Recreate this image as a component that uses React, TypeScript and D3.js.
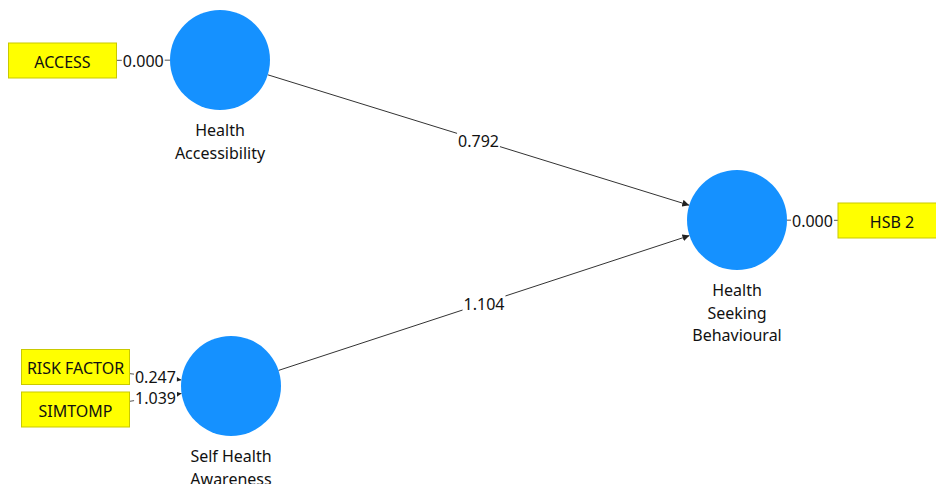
import React, { useEffect, useRef } from 'react'
import * as d3 from 'd3'

// Latent constructs (label lines) and indicators of the path model
const constructs = ['Health Accessibility', 'Self Health Awareness', 'Health Seeking Behavioural']
const constructLines = [['Health', 'Accessibility'], ['Self Health', 'Awareness'], ['Health', 'Seeking', 'Behavioural']]
const indicators = ['ACCESS', 'RISK FACTOR', 'SIMTOMP', 'HSB 2']
const indicatorOf = ['Health Accessibility', 'Self Health Awareness', 'Self Health Awareness', 'Health Seeking Behavioural']
const outerWeights = [0.0, 0.247, 1.039, 0.0]
const pathFrom = ['Health Accessibility', 'Self Health Awareness']
const pathTo = ['Health Seeking Behavioural', 'Health Seeking Behavioural']
const pathCoefs = [0.792, 1.104]

// layout (pixel positions of node centres)
const constructPos: Record<string, [number, number]> = {
  'Health Accessibility': [220, 60],
  'Self Health Awareness': [231, 386],
  'Health Seeking Behavioural': [737, 220],
}
const indicatorPos: Record<string, [number, number]> = {
  ACCESS: [62.5, 60.5],
  'RISK FACTOR': [75.5, 367],
  SIMTOMP: [75.5, 409.5],
  'HSB 2': [892, 220.5],
}
const arrowed: Record<string, boolean> = { ACCESS: false, 'RISK FACTOR': true, SIMTOMP: true, 'HSB 2': false }

const R = 50
const BOX_W = 108
const BOX_H = 35
const FONT = '"Noto Sans", "Open Sans", sans-serif'

const App: React.FC = () => {
  const svgRef = useRef<SVGSVGElement | null>(null)

  useEffect(() => {
    const svg = d3.select(svgRef.current)
    svg.selectAll('*').remove()

    const defs = svg.append('defs')
    defs
      .append('marker')
      .attr('id', 'arr')
      .attr('viewBox', '0 0 10 10')
      .attr('refX', 10)
      .attr('refY', 5)
      .attr('markerWidth', 7)
      .attr('markerHeight', 7)
      .attr('markerUnits', 'userSpaceOnUse')
      .attr('orient', 'auto')
      .append('path')
      .attr('d', 'M0,0 L10,5 L0,10 z')
      .attr('fill', '#222')

    const fmt = d3.format('.3f')

    const label = (g: d3.Selection<SVGGElement, unknown, null, undefined>, x: number, y: number, txt: string) => {
      const t = g
        .append('text')
        .attr('x', x)
        .attr('y', y)
        .attr('text-anchor', 'middle')
        .attr('dominant-baseline', 'central')
        .attr('font-family', FONT)
        .attr('font-size', 16)
        .attr('fill', '#111')
        .text(txt)
      const bb = (t.node() as SVGTextElement).getBBox()
      g.insert('rect', 'text:last-child')
        .attr('x', bb.x - 1)
        .attr('y', bb.y + 2)
        .attr('width', bb.width + 2)
        .attr('height', bb.height - 4)
        .attr('fill', '#fff')
    }

    const edges = svg.append('g')
    const labels = svg.append('g')

    // inner model paths
    pathCoefs.forEach((c, i) => {
      const [x1, y1] = constructPos[pathFrom[i]]
      const [x2, y2] = constructPos[pathTo[i]]
      const len = Math.hypot(x2 - x1, y2 - y1)
      const ux = (x2 - x1) / len
      const uy = (y2 - y1) / len
      edges
        .append('line')
        .attr('x1', x1 + ux * R)
        .attr('y1', y1 + uy * R)
        .attr('x2', x2 - ux * R)
        .attr('y2', y2 - uy * R)
        .attr('stroke', '#333')
        .attr('stroke-width', 1)
        .attr('marker-end', 'url(#arr)')
      const lg = labels.append('g')
      label(lg, (x1 + x2) / 2, (y1 + y2) / 2 + 1, fmt(c))
    })

    // outer model (indicator -> construct)
    indicators.forEach((ind, i) => {
      const [bx, by] = indicatorPos[ind]
      const [cx, cy] = constructPos[indicatorOf[i]]
      const dx = cx - bx
      const dy = cy - by
      const len = Math.hypot(dx, dy)
      // clip at box edge (vertical side)
      const tBox = BOX_W / 2 / Math.abs(dx)
      const sx = bx + dx * tBox
      const sy = by + dy * tBox
      const ex = cx - (dx / len) * R
      const ey = cy - (dy / len) * R
      const ln = edges
        .append('line')
        .attr('x1', sx)
        .attr('y1', sy)
        .attr('x2', ex)
        .attr('y2', ey)
        .attr('stroke', '#555')
        .attr('stroke-width', 1)
      if (arrowed[ind]) ln.attr('marker-end', 'url(#arr)')
      const lg = labels.append('g')
      label(lg, (sx + ex) / 2, (sy + ey) / 2 + 0.5, fmt(outerWeights[i]))
    })

    // constructs
    const cg = svg.append('g')
    constructs.forEach((c, i) => {
      const [x, y] = constructPos[c]
      cg.append('circle').attr('cx', x).attr('cy', y).attr('r', R).attr('fill', '#1591ff')
      constructLines[i].forEach((ln, j) => {
        cg.append('text')
          .attr('x', x)
          .attr('y', y + R + 20 + j * 22.5)
          .attr('text-anchor', 'middle')
          .attr('dominant-baseline', 'central')
          .attr('font-family', FONT)
          .attr('font-size', 16)
          .attr('fill', '#111')
          .text(ln)
      })
    })

    // indicator boxes
    const ig = svg.append('g')
    indicators.forEach((ind) => {
      const [x, y] = indicatorPos[ind]
      ig.append('rect')
        .attr('x', x - BOX_W / 2)
        .attr('y', y - BOX_H / 2)
        .attr('width', BOX_W)
        .attr('height', BOX_H)
        .attr('fill', '#ffff00')
        .attr('stroke', '#c9c900')
        .attr('stroke-width', 1)
      ig.append('text')
        .attr('x', x)
        .attr('y', y + 1)
        .attr('text-anchor', 'middle')
        .attr('dominant-baseline', 'central')
        .attr('font-family', FONT)
        .attr('font-size', 16)
        .attr('fill', '#111')
        .text(ind)
    })
  }, [])

  return (
    <svg
      ref={svgRef}
      width={936}
      height={484}
      style={{ position: 'absolute', left: 0, top: 0, background: '#fff' }}
    ></svg>
  )
}

export default App
